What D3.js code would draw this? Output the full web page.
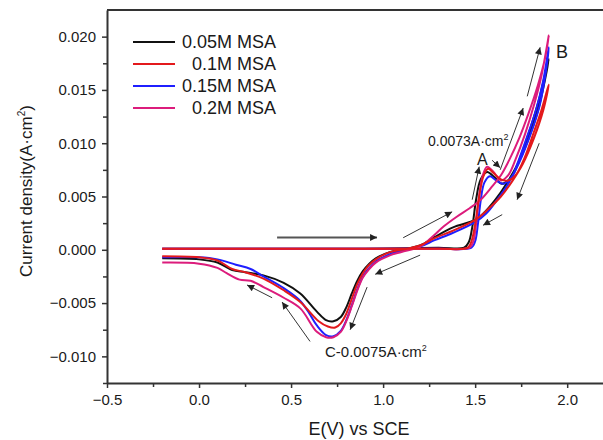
<!DOCTYPE html>
<html lang="en">
  <head>
    <meta charset="utf-8">
    <title>CV MSA</title>
    <script src="https://d3js.org/d3.v7.min.js"></script>
    <style>
      body { margin: 0; background: #fff; }
      text { font-family: Arial, "Liberation Sans", sans-serif; fill: #1a1a1a; }
    </style>
  </head>
  <body>
    <div id="chart"></div>
    <script>
      // series names and colours
      const seriesNames = ["0.05M MSA", "0.1M MSA", "0.15M MSA", "0.2M MSA"];
      const seriesColors = ["#111111", "#e3191c", "#1f1fff", "#dc1c7c"];

      // [E (V vs SCE), current density (A/cm2)] — forward scan then reverse scan
      const msa005 = [
        [-0.2,0.0001],[0.4,0.0001],[0.9,0.0001],[1.3,0.0002],[1.44,0.0002],[1.465,0.0007],[1.485,0.0022],
        [1.505,0.0047],[1.53,0.0066],[1.565,0.0073],[1.605,0.0068],[1.645,0.0062],[1.70,0.0069],[1.75,0.0089],
        [1.80,0.0114],[1.85,0.0143],[1.90,0.0179],
        [1.88,0.0160],[1.84,0.0130],[1.79,0.0104],[1.73,0.0080],[1.67,0.0062],[1.61,0.0047],[1.55,0.0035],
        [1.50,0.0028],[1.38,0.0021],[1.28,0.0012],[1.20,0.0004],[1.10,0.0],[1.04,-0.0002],[0.96,-0.0008],
        [0.92,-0.0014],[0.89,-0.0020],[0.86,-0.0029],[0.83,-0.0041],[0.80,-0.0054],[0.77,-0.0063],[0.73,-0.0067],
        [0.69,-0.0066],[0.64,-0.0058],[0.55,-0.0041],[0.46,-0.0031],[0.35,-0.0024],[0.25,-0.0021],[0.18,-0.0019],
        [0.1,-0.0012],[0.0,-0.0009],[-0.2,-0.0008]
      ];
      const msa01 = [
        [-0.2,0.0001],[0.4,0.0001],[0.9,0.0001],[1.3,0.0001],[1.46,0.0002],[1.48,0.0008],[1.50,0.0024],
        [1.52,0.0048],[1.545,0.0069],[1.57,0.0076],[1.60,0.0072],[1.64,0.0066],[1.68,0.0065],[1.72,0.0070],
        [1.77,0.0087],[1.82,0.0111],[1.86,0.0131],[1.90,0.0155],
        [1.87,0.0131],[1.82,0.0105],[1.76,0.0081],[1.70,0.0064],[1.64,0.0050],[1.57,0.0038],[1.50,0.0028],
        [1.38,0.0018],[1.28,0.0011],[1.20,0.0004],[1.10,0.0],[1.04,-0.0002],[0.96,-0.0009],[0.92,-0.0015],
        [0.89,-0.0022],[0.86,-0.0032],[0.83,-0.0046],[0.80,-0.0060],[0.77,-0.0069],[0.74,-0.0073],[0.70,-0.0072],
        [0.65,-0.0067],[0.55,-0.0049],[0.46,-0.0038],[0.35,-0.0027],[0.25,-0.0021],[0.18,-0.0018],[0.1,-0.0010],
        [0.0,-0.0007],[-0.2,-0.0006]
      ];
      const msa015 = [
        [-0.2,0.0001],[0.4,0.0001],[0.9,0.0001],[1.3,0.0001],[1.48,0.0002],[1.50,0.0008],[1.515,0.0024],
        [1.53,0.0046],[1.55,0.0063],[1.58,0.0069],[1.615,0.0065],[1.655,0.0062],[1.70,0.0069],[1.73,0.0081],
        [1.78,0.0105],[1.83,0.0131],[1.87,0.0159],[1.90,0.0190],
        [1.885,0.0168],[1.85,0.0135],[1.80,0.0108],[1.74,0.0082],[1.68,0.0062],[1.62,0.0047],[1.56,0.0034],
        [1.50,0.0026],[1.38,0.0016],[1.28,0.0009],[1.20,0.0003],[1.10,-0.0001],[1.04,-0.0004],[0.96,-0.0011],
        [0.92,-0.0018],[0.89,-0.0025],[0.86,-0.0037],[0.83,-0.0052],[0.80,-0.0066],[0.77,-0.0076],[0.73,-0.0081],
        [0.69,-0.0080],[0.64,-0.0071],[0.60,-0.0060],[0.55,-0.0048],[0.46,-0.0036],[0.35,-0.0025],[0.28,-0.0018],
        [0.2,-0.0014],[0.1,-0.0009],[0.0,-0.0007],[-0.2,-0.0007]
      ];
      const msa02 = [
        [-0.2,0.0001],[0.4,0.0001],[0.9,0.0001],[1.3,0.0001],[1.47,0.0002],[1.49,0.0008],[1.505,0.0024],
        [1.52,0.0048],[1.54,0.0069],[1.565,0.0078],[1.60,0.0073],[1.64,0.0065],[1.68,0.0070],[1.72,0.0085],
        [1.77,0.0108],[1.82,0.0136],[1.86,0.0163],[1.90,0.0201],
        [1.88,0.0180],[1.84,0.0154],[1.79,0.0128],[1.74,0.0105],[1.69,0.0086],[1.64,0.0070],[1.59,0.0059],
        [1.53,0.0047],[1.47,0.0039],[1.40,0.0031],[1.33,0.0022],[1.26,0.0011],[1.20,0.0003],[1.10,-0.0002],
        [1.04,-0.0005],[0.96,-0.0012],[0.92,-0.0019],[0.89,-0.0026],[0.86,-0.0038],[0.83,-0.0053],[0.80,-0.0067],
        [0.77,-0.0077],[0.73,-0.0082],[0.69,-0.0082],[0.64,-0.0077],[0.55,-0.0055],[0.46,-0.0045],[0.35,-0.0035],
        [0.28,-0.0029],[0.22,-0.0028],[0.15,-0.0022],[0.1,-0.0017],[0.0,-0.0013],[-0.2,-0.0012]
      ];

      // scan-direction arrows: [E1, j1, E2, j2]
      const arrowList = [
        [0.424,0.00115,0.967,0.00115],
        [1.109,0.00113,1.375,0.00356],
        [1.484,0.0047,1.522,0.0078],
        [1.592,0.0084,1.636,0.0077],
        [1.636,0.0075,1.761,0.0133],
        [1.783,0.0144,1.853,0.0190],
        [1.848,0.0100,1.728,0.0047],
        [1.647,0.0033,1.543,0.0023],
        [1.201,-0.0005,0.957,-0.0023],
        [0.913,-0.0035,0.821,-0.0075],
        [0.603,-0.0086,0.451,-0.0049],
        [0.397,-0.0045,0.261,-0.0033]
      ];

      // tick values
      const xTicks = [-0.5, 0.0, 0.5, 1.0, 1.5, 2.0];
      const xMinor = [-0.25, 0.25, 0.75, 1.25, 1.75];
      const yTicks = [-0.010, -0.005, 0.000, 0.005, 0.010, 0.015, 0.020];
      const yMinor = [-0.0125, -0.0075, -0.0025, 0.0025, 0.0075, 0.0125, 0.0175];

      const W = 603, H = 440;
      const svg = d3.select("#chart").append("svg")
        .attr("width", W).attr("height", H);

      const x = d3.scaleLinear().domain([-0.5, 2.2]).range([107, 604]);
      const y = d3.scaleLinear().domain([-0.0125, 0.0225]).range([383, 10]);

      // arrow marker
      svg.append("defs").append("marker")
        .attr("id", "head")
        .attr("viewBox", "0 0 10 10")
        .attr("refX", 10).attr("refY", 5)
        .attr("markerUnits", "userSpaceOnUse")
        .attr("markerWidth", 10).attr("markerHeight", 7)
        .attr("orient", "auto")
        .append("path").attr("d", "M0,0 L10,5 L0,10 Z").attr("fill", "#222");

      // axes
      svg.append("g")
        .attr("transform", `translate(0,${y.range()[0]})`)
        .call(d3.axisBottom(x).tickValues(xTicks).tickFormat(d3.format(".1f"))
          .tickSize(5).tickSizeOuter(0).tickPadding(6));
      svg.append("g")
        .attr("transform", `translate(0,${y.range()[0]})`)
        .call(d3.axisBottom(x).tickValues(xMinor).tickFormat("").tickSize(4).tickSizeOuter(0))
        .select(".domain").remove();

      svg.append("g")
        .attr("transform", `translate(${x.range()[0]},0)`)
        .call(d3.axisLeft(y).tickValues(yTicks).tickFormat(d3.format(".3f"))
          .tickSize(5).tickSizeOuter(0).tickPadding(6));
      svg.append("g")
        .attr("transform", `translate(${x.range()[0]},0)`)
        .call(d3.axisLeft(y).tickValues(yMinor).tickFormat("").tickSize(4).tickSizeOuter(0))
        .select(".domain").remove();

      svg.selectAll(".domain").attr("stroke", "#333").attr("stroke-width", 2);
      svg.selectAll(".tick line").attr("stroke", "#333").attr("stroke-width", 1.5);
      svg.selectAll(".tick text").style("font-size", "15px").attr("fill", "#1a1a1a")
        .style("font-family", "Arial, 'Liberation Sans', sans-serif");

      // top frame
      svg.append("line")
        .attr("x1", x.range()[0]).attr("x2", x.range()[1])
        .attr("y1", y.range()[1]).attr("y2", y.range()[1])
        .attr("stroke", "#333").attr("stroke-width", 2);

      // axis titles
      svg.append("text")
        .attr("x", 359).attr("y", 435)
        .attr("text-anchor", "middle")
        .style("font-size", "18px")
        .text("E(V) vs SCE");

      const yt = svg.append("text")
        .attr("transform", "translate(32,191) rotate(-90)")
        .attr("text-anchor", "middle")
        .style("font-size", "17px");
      yt.append("tspan").text("Current density(A·cm");
      yt.append("tspan").attr("dy", -7).style("font-size", "10px").text("2");
      yt.append("tspan").attr("dy", 7).text(")");

      // curves
      const line = d3.line()
        .curve(d3.curveCatmullRom.alpha(0.5))
        .x(d => x(d[0]))
        .y(d => y(d[1]));

      const seriesData = [msa005, msa01, msa015, msa02];
      const drawOrder = [0, 2, 3, 1];
      drawOrder.forEach(i => {
        svg.append("path")
          .datum(seriesData[i])
          .attr("d", line)
          .attr("fill", "none")
          .attr("stroke", seriesColors[i])
          .attr("stroke-width", 2)
          .attr("stroke-linejoin", "round");
      });

      // arrows
      svg.selectAll(".arrow")
        .data(arrowList)
        .join("line")
        .attr("class", "arrow")
        .attr("x1", d => x(d[0])).attr("y1", d => y(d[1]))
        .attr("x2", d => x(d[2])).attr("y2", d => y(d[3]))
        .attr("stroke", (d, i) => i == 0 ? "#555" : "#333")
        .attr("stroke-width", (d, i) => i == 0 ? 2 : 1)
        .attr("marker-end", "url(#head)");

      // annotations
      const a1 = svg.append("text").attr("x", 428).attr("y", 146).style("font-size", "14px");
      a1.append("tspan").text("0.0073A·cm");
      a1.append("tspan").attr("dy", -6).style("font-size", "9px").text("2");

      svg.append("text").attr("x", 477).attr("y", 165).style("font-size", "16px").text("A");
      svg.append("text").attr("x", 556).attr("y", 58).style("font-size", "18px").text("B");

      const c1 = svg.append("text").attr("x", 325).attr("y", 357).style("font-size", "15px");
      c1.append("tspan").text("C-0.0075A·cm");
      c1.append("tspan").attr("dy", -6).style("font-size", "9px").text("2");

      // legend
      const legend = svg.append("g");
      seriesNames.forEach((name, i) => {
        const ly = 42 + i * 22;
        legend.append("line")
          .attr("x1", 133).attr("x2", 175)
          .attr("y1", ly).attr("y2", ly)
          .attr("stroke", seriesColors[i]).attr("stroke-width", 2);
        legend.append("text")
          .attr("x", 276).attr("y", ly + 6)
          .attr("text-anchor", "end")
          .style("font-size", "18px")
          .text(name);
      });
    </script>
  </body>
</html>
